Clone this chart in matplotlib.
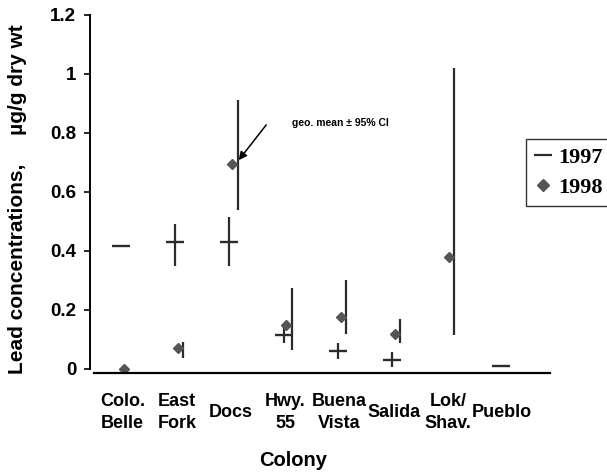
#!/usr/bin/env python3
"""Lead concentrations by colony, 1997 vs 1998 (geo. mean +/- 95% CI)."""

import matplotlib

matplotlib.use("Agg")
import matplotlib.pyplot as plt
import numpy as np
from matplotlib.lines import Line2D

COLONIES = ["Colo.\nBelle", "East\nFork", "Docs", "Hwy.\n55", "Buena\nVista",
            "Salida", "Lok/\nShav.", "Pueblo"]

nan = np.nan
MEAN_97 = [0.415, 0.43, 0.43, 0.115, 0.061, 0.03, nan, 0.01]
LO_97 = [nan, 0.35, 0.35, 0.089, 0.034, 0.008, nan, nan]
HI_97 = [nan, 0.49, 0.515, 0.142, 0.089, 0.059, nan, nan]

MEAN_98 = [0.0, 0.07, 0.695, 0.149, 0.175, 0.119, 0.379, nan]
LO_98 = [nan, 0.037, 0.54, 0.064, 0.118, 0.089, 0.115, nan]
HI_98 = [nan, 0.09, 0.91, 0.273, 0.30, 0.17, 1.02, nan]

YTICKS = [0, 0.2, 0.4, 0.6, 0.8, 1.0, 1.2]

INK = "#2b2b2b"
DIAMOND = "#555555"

plt.rcParams["font.family"] = ["Liberation Sans", "DejaVu Sans"]
plt.rcParams["font.weight"] = "bold"


def main() -> None:
    fig = plt.figure(figsize=(6.07, 4.74), dpi=100)
    ax = fig.add_axes([0.1483, 0.2141, 0.7577, 0.7549])

    x = np.arange(len(COLONIES))
    x97 = x - 0.03
    x98 = x + 0.02
    bar98 = x + 0.12

    ax.vlines(x97, LO_97, HI_97, color=INK, lw=1.6)
    ax.plot(x97, MEAN_97, ls="none", marker="_", ms=13, mew=1.7, color=INK)

    ax.vlines(bar98, LO_98, HI_98, color=INK, lw=1.6)
    ax.plot(x98, MEAN_98, ls="none", marker="D", ms=5.5, color=DIAMOND,
            mec=DIAMOND)

    ax.set_xlim(-0.6, 7.88)
    ax.set_ylim(-0.012, 1.2)
    ax.set_yticks(YTICKS)
    ax.set_yticklabels([f"{v:g}" for v in YTICKS], fontsize=13.5,
                       fontweight="bold")
    ax.tick_params(axis="y", direction="out", length=4, width=1.2, pad=6)

    ax.set_xticks(x)
    ax.set_xticklabels(COLONIES, fontsize=13, fontweight="bold", va="center",
                       linespacing=1.4)
    ax.tick_params(axis="x", length=0, pad=29)

    for side in ("top", "right"):
        ax.spines[side].set_visible(False)
    ax.spines["left"].set_bounds(0, 1.2)
    ax.spines["left"].set_linewidth(1.4)
    ax.spines["bottom"].set_linewidth(1.6)
    ax.spines["bottom"].set_bounds(-0.53, 7.88)

    ax.set_ylabel("Lead concentrations,     \u00b5g/g dry wt", fontsize=15,
                  fontweight="bold")
    ax.yaxis.set_label_coords(-0.137, 0.485)
    fig.text(293 / 607, 1 - 460 / 474, "Colony", fontsize=14.5,
             fontweight="bold", ha="center", va="center")

    ax.annotate("", xy=(x98[2] + 0.09, MEAN_98[2] + 0.005),
                xytext=(x98[2] + 0.66, 0.834),
                arrowprops=dict(arrowstyle="-|>", color="black", lw=1.1,
                                mutation_scale=12))
    ax.text(x98[2] + 1.1, 0.834, "geo. mean \u00b1 95% CI", fontsize=7.5,
            fontweight="bold", va="center", ha="left")

    handles = [
        Line2D([], [], ls="none", marker="_", ms=13, mew=1.6, color=INK),
        Line2D([], [], ls="none", marker="D", ms=6, color=DIAMOND),
    ]
    leg = fig.legend(handles, ["1997", "1998"], loc="upper left",
                     bbox_to_anchor=(526 / 607, 1 - 139 / 474),
                     frameon=True, fancybox=False, handlelength=0.8,
                     handletextpad=0.3, borderpad=0.36, labelspacing=0.45,
                     borderaxespad=0,
                     prop={"family": "Liberation Serif", "weight": "bold",
                           "size": 16})
    leg.get_frame().set_edgecolor("black")
    leg.get_frame().set_linewidth(1.0)

    fig.savefig("out.png", dpi=100)
    plt.close(fig)


if __name__ == "__main__":
    main()
